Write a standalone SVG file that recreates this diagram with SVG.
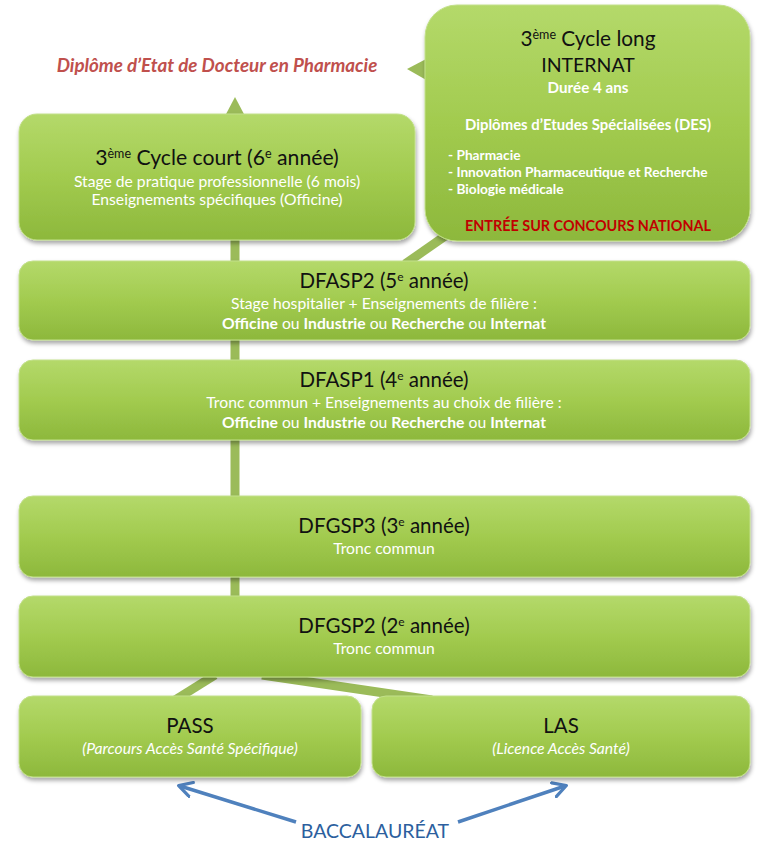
<svg xmlns="http://www.w3.org/2000/svg" width="768" height="851" viewBox="0 0 768 851">
<defs>
<linearGradient id="g" x1="0" y1="0" x2="0" y2="1">
<stop offset="0" stop-color="#b4d96a"/>
<stop offset="0.5" stop-color="#a2cb4f"/>
<stop offset="1" stop-color="#8db83c"/>
</linearGradient>
<filter id="sh" x="-5%" y="-10%" width="110%" height="130%">
<feDropShadow dx="1" dy="3" stdDeviation="2" flood-color="#000" flood-opacity="0.35"/>
</filter>
<marker id="ah" viewBox="0 0 12 12" refX="9" refY="6" markerWidth="5" markerHeight="5" orient="auto" markerUnits="strokeWidth">
<path d="M1,1 L10,6 L1,11" fill="none" stroke="#4f81bd" stroke-width="2.2" stroke-linecap="round" stroke-linejoin="round"/>
</marker>
<style>
.box{fill:url(#g);stroke:#c2e08a;stroke-width:1;filter:url(#sh)}
.t{font-family:Lato,"Open Sans","Liberation Sans",sans-serif;text-anchor:middle}
.h{font-size:20.5px;fill:#111}
.s{font-size:15.7px;fill:#fff}
.b{font-weight:bold}
.l{text-anchor:start}
.c{fill:none;stroke:#9bbb59;stroke-width:9}
.blue{fill:none;stroke:#4f81bd;stroke-width:3.5;marker-end:url(#ah)}
</style>
</defs>

<g id="connectors">
<line class="c" x1="235" y1="112" x2="235" y2="600"/>
<polygon points="225,116 235,97 245,116" fill="#9bbb59"/>
<line class="c" x1="405" y1="264" x2="448" y2="234"/>
<polygon points="428,58 407,69 428,81" fill="#9bbb59"/>
<line class="c" x1="215" y1="675" x2="175" y2="700"/>
<line class="c" x1="262" y1="675" x2="432" y2="700"/>
<line class="blue" x1="296" y1="822" x2="180" y2="786"/>
<line class="blue" x1="458" y1="822" x2="565" y2="786"/>
</g>

<g id="diplome">
<text class="t b" x="217" y="72" font-size="18.8" font-style="italic" fill="#c0504d">Diplôme d’Etat de Docteur en Pharmacie</text>
</g>

<g id="cycle-court">
<rect class="box" x="19" y="114" width="396" height="126" rx="18"/>
<text class="t h" x="217" y="165" style="font-size:21.2px">3<tspan font-size="12.5" baseline-shift="super">ème</tspan> Cycle court (6<tspan font-size="12.5" baseline-shift="super">e</tspan> année)</text>
<text class="t s" x="217" y="187">Stage de pratique professionnelle (6 mois)</text>
<text class="t s" x="217" y="205">Enseignements spécifiques (Officine)</text>
</g>

<g id="cycle-long">
<rect class="box" x="425" y="5" width="325" height="236" rx="32"/>
<text class="t h" x="588" y="46" style="font-size:20.8px">3<tspan font-size="12.5" baseline-shift="super">ème</tspan> Cycle long</text>
<text class="t h" x="588" y="72" style="font-size:19.5px">INTERNAT</text>
<text class="t s b" x="588" y="93" style="font-size:15.2px">Durée 4 ans</text>
<text class="t s b" x="588" y="130" style="font-size:14.9px">Diplômes d’Etudes Spécialisées (DES)</text>
<text class="t s b l" x="448" y="160" style="font-size:13.7px">- Pharmacie</text>
<text class="t s b l" x="448" y="177" style="font-size:13.7px">- Innovation Pharmaceutique et  Recherche</text>
<text class="t s b l" x="448" y="194" style="font-size:13.7px">- Biologie médicale</text>
<text class="t b" x="588" y="231" font-size="14.4" fill="#c00000">ENTRÉE SUR CONCOURS NATIONAL</text>
</g>

<g id="dfasp2">
<rect class="box" x="19" y="261" width="731" height="79" rx="14"/>
<text class="t h" x="384" y="288">DFASP2 (5<tspan font-size="12" baseline-shift="super">e</tspan> année)</text>
<text class="t s" x="384" y="309">Stage hospitalier + Enseignements de filière :</text>
<text class="t s" x="384" y="329"><tspan class="b">Officine</tspan> ou <tspan class="b">Industrie</tspan> ou <tspan class="b">Recherche</tspan> ou <tspan class="b">Internat</tspan></text>
</g>

<g id="dfasp1">
<rect class="box" x="19" y="360" width="731" height="80" rx="14"/>
<text class="t h" x="384" y="387">DFASP1 (4<tspan font-size="12" baseline-shift="super">e</tspan> année)</text>
<text class="t s" x="384" y="408">Tronc commun +  Enseignements au choix de filière :</text>
<text class="t s" x="384" y="428"><tspan class="b">Officine</tspan> ou <tspan class="b">Industrie</tspan> ou <tspan class="b">Recherche</tspan> ou <tspan class="b">Internat</tspan></text>
</g>

<g id="dfgsp3">
<rect class="box" x="19" y="496" width="731" height="81" rx="14"/>
<text class="t h" x="384" y="533">DFGSP3 (3<tspan font-size="12" baseline-shift="super">e</tspan> année)</text>
<text class="t s" x="384" y="554">Tronc commun</text>
</g>

<g id="dfgsp2">
<rect class="box" x="19" y="596" width="731" height="81" rx="14"/>
<text class="t h" x="384" y="633">DFGSP2 (2<tspan font-size="12" baseline-shift="super">e</tspan> année)</text>
<text class="t s" x="384" y="654">Tronc commun</text>
</g>

<g id="pass">
<rect class="box" x="19" y="696" width="342" height="81" rx="14"/>
<text class="t h" x="190" y="733">PASS</text>
<text class="t s" x="190" y="754" font-style="italic">(Parcours Accès Santé Spécifique)</text>
</g>

<g id="las">
<rect class="box" x="372" y="696" width="378" height="81" rx="14"/>
<text class="t h" x="561" y="733">LAS</text>
<text class="t s" x="561" y="754" font-style="italic">(Licence Accès Santé)</text>
</g>

<g id="bac">
<text class="t" x="375" y="838" font-size="19.5" fill="#2c5f9e">BACCALAURÉAT</text>
</g>
</svg>
